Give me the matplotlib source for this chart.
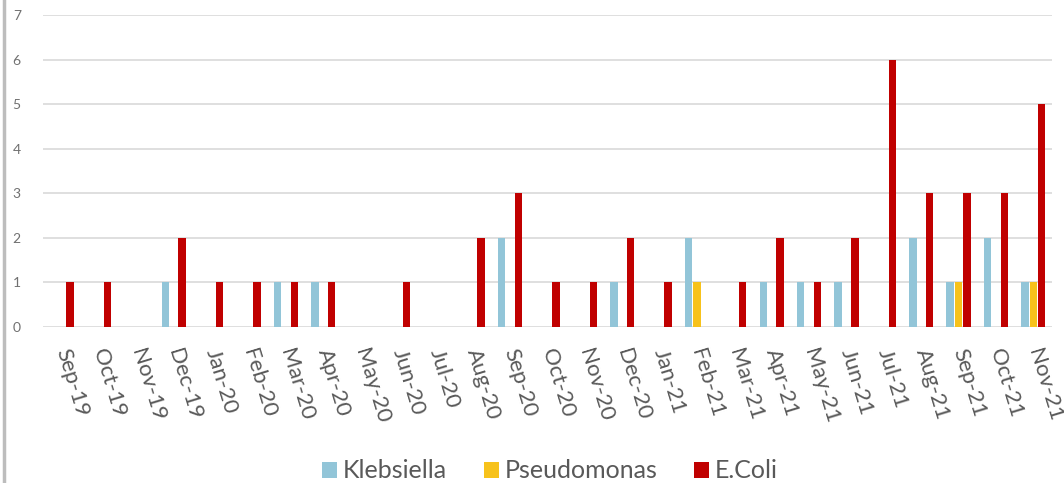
import numpy as np
import matplotlib
matplotlib.use("Agg")
import matplotlib.pyplot as plt
from matplotlib.lines import Line2D
from matplotlib.patches import Patch

# Monthly counts per organism
months = ['Sep-19', 'Oct-19', 'Nov-19', 'Dec-19', 'Jan-20', 'Feb-20', 'Mar-20',
          'Apr-20', 'May-20', 'Jun-20', 'Jul-20', 'Aug-20', 'Sep-20', 'Oct-20',
          'Nov-20', 'Dec-20', 'Jan-21', 'Feb-21', 'Mar-21', 'Apr-21', 'May-21',
          'Jun-21', 'Jul-21', 'Aug-21', 'Sep-21', 'Oct-21', 'Nov-21']
klebsiella = [0, 0, 0, 1, 0, 0, 1, 1, 0, 0, 0, 0, 2, 0, 0, 1, 0, 2, 0, 1, 1, 1, 0, 2, 1, 2, 1]
pseudomonas = [0, 0, 0, 0, 0, 0, 0, 0, 0, 0, 0, 0, 0, 0, 0, 0, 0, 1, 0, 0, 0, 0, 0, 0, 1, 0, 1]
ecoli = [1, 1, 0, 2, 1, 1, 1, 1, 0, 1, 0, 2, 3, 1, 1, 2, 1, 0, 1, 2, 1, 2, 6, 3, 3, 3, 5]
y_ticks = [0, 1, 2, 3, 4, 5, 6, 7]

series = [("Klebsiella", klebsiella, "#92C5D8"),
          ("Pseudomonas", pseudomonas, "#F7C21B"),
          ("E.Coli", ecoli, "#C00000")]

plt.rcParams['font.family'] = ['Lato', 'DejaVu Sans']
text_color = "#595959"

W, H = 1064, 483
fig = plt.figure(figsize=(W / 100, H / 100), dpi=100)
ax = fig.add_axes([43 / W, 156 / H, (1052 - 43) / W, (327 - 15) / H])

x = np.arange(len(months))
step = 0.225
width = 0.2
for i, (name, vals, color) in enumerate(series):
    ax.bar(x + (i - 1) * step, vals, width=width, color=color, label=name, zorder=3)

ax.set_xlim(-0.5, len(months) - 0.5)
ax.set_ylim(0, 7)
ax.set_yticks(y_ticks)
ax.yaxis.grid(True, color="#D9D9D9", linewidth=1.2, zorder=0)
ax.set_axisbelow(True)
for s in ax.spines.values():
    s.set_visible(False)

ax.tick_params(axis='y', length=0, pad=16, labelsize=10, labelcolor="#707070")
ax.tick_params(axis='x', length=0, pad=16, labelsize=16, labelcolor=text_color)
ax.set_xticks(x)
ax.set_xticklabels(months, rotation=-73, ha='left', va='center', rotation_mode='anchor')

handles = [Patch(facecolor=c, edgecolor='none') for _, _, c in series]
labels = [n for n, _, _ in series]
fig.legend(handles, labels, loc='center', bbox_to_anchor=(550 / W, (H - 471) / H),
           ncol=3, frameon=False, fontsize=18, handlelength=0.6, handleheight=0.6,
           handletextpad=0.25, columnspacing=1.45, labelcolor=text_color)

# chart frame edge on the left
fig.add_artist(Line2D([4 / W, 4 / W], [0, 1], color="#BDBDBD", linewidth=2.5,
                      transform=fig.transFigure))

fig.savefig("out.png", dpi=100)
